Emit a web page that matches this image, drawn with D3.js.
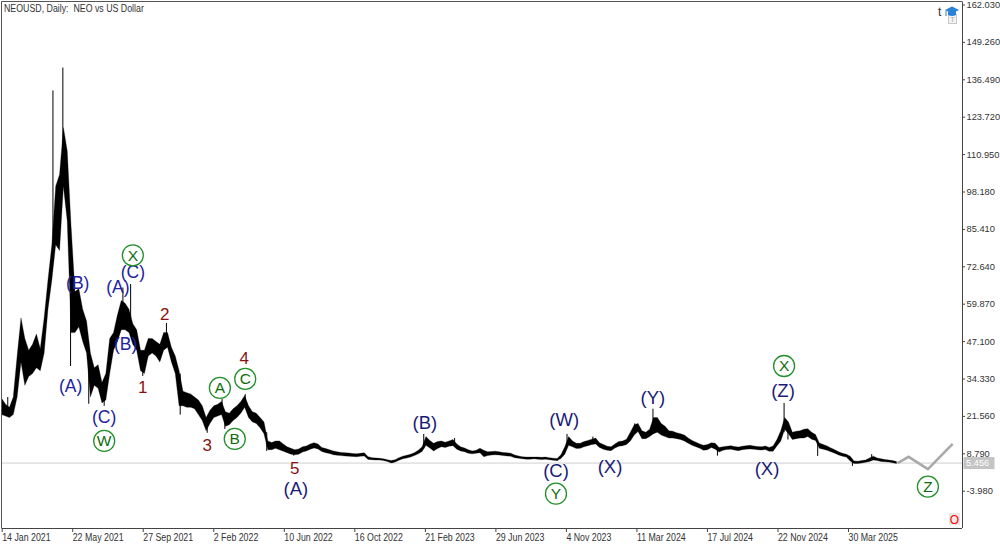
<!DOCTYPE html>
<html><head><meta charset="utf-8">
<script src="https://cdn.jsdelivr.net/npm/d3@7"></script>
<style>body{margin:0;background:#fff}svg{display:block}</style>
</head><body>
<svg id="c" width="1000" height="545"></svg>
<script>
// ---------------- DATA ----------------
const title = "NEOUSD, Daily:  NEO vs US Dollar";
const weekStart = "2021-01-14"; // weekly samples, one every 7 days
const lo = [
22,21.5,21,22,28,40,32,35,36,38,
37,43,58,68,80,78,100,88,50,50,
52,47,43,28,32,31,26,27,36,44,
47,51,51,50,46,44,37,36,42,43,
42,40,44,45,40,36,25,25,24.5,24.5,
24,22,20,16.5,19,21,21.5,22,18,18.5,
20,21,22.5,24.5,21,19.5,19,17.5,15.5,10,
10,10.5,10,9.5,9,8.5,8.3,8.5,9.2,9.6,
10.2,10.6,10.3,9.4,9.0,8.7,8.3,8.1,8.0,7.9,
7.8,7.7,7.6,7.8,7.9,6.7,6.6,6.5,6.5,6.3,
6.0,5.5,5.8,6.4,6.9,7.2,7.5,8.0,8.6,9.4,
11.5,10.6,9.6,10.4,11,10.8,11.2,11.4,10.2,9.6,
9.3,8.8,8.6,8.8,9.0,7.6,8.0,8.2,8.3,8.2,
8.0,7.9,7.8,7.3,7.1,6.9,6.8,6.8,6.9,6.8,
6.7,6.8,6.6,6.4,6.3,7.0,8.5,11.5,11,10.4,
10.5,11,11.4,11.8,12,10.8,10.2,9.8,9.7,10.6,
11.2,11.4,11.8,13,15,16.2,13.8,13.8,14.5,15.5,
16,15,14.5,14,14,13.8,13.5,13,12.2,11.5,
11,10.5,9.8,10,10.8,10.2,9.2,9.8,10.1,10.2,
9.9,9.7,10,10.2,10.3,10.2,10,9.9,10.1,9.5,
9.5,11.3,13,17,15.5,13.5,13.8,14,14,14.5,
13.6,13.2,10.5,10.2,9.8,9.3,8.8,8.2,7.8,7.5,
6.2,5.3,5.3,5.5,5.7,6.0,6.5,6.3,6.0,5.9,
5.8,5.6,5.3
];
const hi = [
27.5,25.5,24.5,28,42,55,48,44,46,49.5,
44.5,55,68,80,100,104,120,112,86,64,
65,58,54,43,38,39,33,36,48,50,
56,61,60,58,53,51,44,44,48,48,
47,46,50,50,45,42,37,30,29.5,29,
28,27,25,21,23.5,25,25.5,26.5,23,22.5,
24,25,26.5,28.5,25,23,22.5,21,19.5,13,
12.5,13,13,12,11,10.5,10,10.3,11,11.3,
12,12.4,12,10.8,10.4,10.0,9.6,9.3,9.1,9.0,
8.9,8.7,8.6,8.8,9.0,7.6,7.3,7.2,7.1,6.9,
6.6,6.3,6.6,7.3,7.8,8.1,8.5,9.0,9.8,11.0,
14.5,13.2,12.2,12.8,13,12.6,13,13.5,12,11,
10.6,10,9.6,9.8,10.5,9.8,9.3,9.4,9.5,9.3,
9.1,9.0,8.8,8.2,7.9,7.6,7.5,7.5,7.5,7.5,
7.4,7.5,7.3,7.1,7.0,8.3,11,14.5,13,12.2,
12.2,12.8,13.2,13.6,14,12.4,11.8,11.2,11,12,
12.8,13,13.6,16,18.5,19,16.5,16,17,21,
21,19,18,16.5,16.3,15.8,15.5,15,14,13.2,
12.6,12,11.5,11.8,12.4,12.2,10.8,11,11.2,11.4,
11.1,10.9,11.2,11.4,11.5,11.3,11.1,11.0,11.3,10.8,
11.3,13.5,16.5,21,19.5,16,16.3,16.5,17,17.2,
16,15.2,12.3,11.8,11.3,10.6,10,9.3,8.8,8.5,
7.8,6.2,6.1,6.3,6.5,7.2,7.8,7.2,6.9,6.7,
6.5,6.3,6.0
];
// single-day spikes: [date, low, high]
const wicks = [
["2021-01-25",22,28],["2021-04-17",80,132.7],["2021-05-05",105,140.5],["2021-05-19",38.6,86],
["2021-06-21",25.7,42],["2021-07-19",25,30],["2021-08-22",55,65.4],["2021-09-05",50,66.6],
["2021-09-27",35.2,42],["2021-11-09",46,53.3],["2021-12-04",22,36],["2022-01-22",15.8,19],
["2022-02-18",22,27.3],["2022-02-23",17.1,22],["2022-04-01",25,29],["2022-05-10",9.6,16],
["2022-06-28",8.0,9.5],["2022-12-25",5.6,6.3],["2023-02-19",10.5,15.4],["2023-04-16",12,14],
["2023-06-10",7.9,9.5],["2023-10-19",6.2,6.8],["2023-11-06",11,15.4],["2023-12-23",12.5,14.5],
["2024-03-08",16,19],["2024-04-10",15.5,24],["2024-08-05",8,10.5],["2024-12-04",16,26],
["2024-12-11",13.5,18],["2025-02-03",7.9,12],["2025-04-07",4.5,6.5],["2025-05-12",6.5,8.5]
];
const lastPrice = 5.456;
const projection = [["2025-06-28",5.456],["2025-07-18",7.6],["2025-08-22",3.4],["2025-10-06",12.0]];
const priceTicks = [162.03,149.26,136.49,123.72,110.95,98.18,85.41,72.64,59.87,47.10,34.33,21.56,8.79,-3.98];
const dateTicks = ["2021-01-14","2021-05-22","2021-09-27","2022-02-02","2022-06-10","2022-10-16","2023-02-21","2023-06-29","2023-11-04","2024-03-11","2024-07-17","2024-11-22","2025-03-30"];
// wave labels: text, date, price, kind (b = blue, B = large blue, r = red number, g = green circled)
const waveLabels = [
["(B)","2021-06-01",66.9,"b"],["(A)","2021-05-19",31.8,"b"],["(A)","2021-08-13",65.5,"b"],
["(C)","2021-09-09",70.7,"b"],["X","2021-09-09",76.4,"g"],["(B)","2021-08-27",46.1,"b"],
["(C)","2021-07-19",21.2,"b"],["W","2021-07-19",13.0,"g"],["1","2021-09-27",31.4,"r"],
["2","2021-11-06",56.3,"r"],["A","2022-02-14",31.1,"g"],["4","2022-03-30",41.3,"r"],
["C","2022-04-01",34.2,"g"],["3","2022-01-22",11.3,"r"],["B","2022-03-13",13.7,"g"],
["5","2022-06-30",3.6,"r"],["(A)","2022-07-02",-3.3,"B"],["(B)","2023-02-21",19.2,"B"],
["(W)","2023-11-01",20.5,"B"],["(C)","2023-10-17",2.8,"B"],["Y","2023-10-17",-5.0,"g"],
["(X)","2024-01-23",4.2,"B"],["(Y)","2024-04-10",27.7,"B"],["X","2024-12-04",38.6,"g"],
["(Z)","2024-12-02",30.4,"B"],["(X)","2024-11-03",3.5,"B"],["Z","2025-08-22",-2.6,"g"]
];

// ---------------- DRAW ----------------
const svg = d3.select("#c");
const P = {l:1.5, t:1.5, r:962, b:528};
const parse = s => new Date(s + "T00:00:00Z");
const x = d3.scaleUtc().domain([parse("2021-01-14"), parse("2025-03-30")]).range([1.7, 848]);
const y = d3.scaleLinear().domain([-3.98, 162.03]).range([490.7, 4.5]);
const t0 = parse(weekStart).getTime();
const dateAt = i => new Date(t0 + i * 7 * 864e5);
const axisFont = "'Liberation Sans',Arial,sans-serif";
const labFont = "'Liberation Sans',Arial,sans-serif";
function squeeze(sel, f) {
  sel.each(function(){ const w = this.getComputedTextLength();
    d3.select(this).attr("textLength", w*f).attr("lengthAdjust","spacingAndGlyphs"); });
}

svg.append("rect").attr("width",1000).attr("height",545).attr("fill","#fff");
svg.append("defs").append("clipPath").attr("id","pc").append("rect")
  .attr("x",P.l).attr("y",P.t).attr("width",P.r-P.l).attr("height",P.b-P.t);

const g = svg.append("g").attr("clip-path","url(#pc)");

// current price line
g.append("line").attr("x1",P.l).attr("x2",P.r).attr("y1",y(lastPrice)).attr("y2",y(lastPrice))
  .attr("stroke","#cfcfcf").attr("stroke-width",1);

// price band (envelope of the daily bars)
const area = d3.area().x((d,i)=>x(dateAt(i))).y0((d,i)=>y(lo[i])).y1((d,i)=>y(hi[i]));
g.append("path").datum(lo).attr("d",area).attr("fill","#000").attr("stroke","#000")
  .attr("stroke-width",0.3).attr("stroke-linejoin","round");
g.selectAll("line.w").data(wicks).enter().append("line").attr("class","w")
  .attr("x1",d=>x(parse(d[0]))).attr("x2",d=>x(parse(d[0])))
  .attr("y1",d=>y(d[1])).attr("y2",d=>y(d[2])).attr("stroke","#000").attr("stroke-width",1);

// projection
g.append("path").datum(projection)
  .attr("d", d3.line().x(d=>x(parse(d[0]))).y(d=>y(d[1])))
  .attr("fill","none").attr("stroke","#a9a9a9").attr("stroke-width",2.6).attr("stroke-linejoin","miter");

// wave labels
const colors = {b:"#2323a0", B:"#1b1b78", r:"#8b1111", g:"#0d6e0d"};
const sizes = {b:17.5, B:18.5, r:17, g:15.5};
waveLabels.forEach(d=>{
  const cx = x(parse(d[1])), cy = y(d[2]), k = d[3];
  if (k === "g") {
    g.append("circle").attr("cx",cx).attr("cy",cy).attr("r",10.5)
      .attr("fill","none").attr("stroke","#23902a").attr("stroke-width",1.3);
  }
  g.append("text").attr("x",cx).attr("y",cy).attr("text-anchor","middle")
    .attr("dominant-baseline","central").attr("font-family",labFont)
    .attr("font-size",sizes[k]).attr("fill",colors[k]).text(d[0]);
});

// frame
svg.append("line").attr("x1",P.l).attr("x2",P.l).attr("y1",P.t).attr("y2",P.b).attr("stroke","#555");
svg.append("line").attr("x1",P.l).attr("x2",P.r).attr("y1",P.t).attr("y2",P.t).attr("stroke","#555");

// price axis
const yAxis = d3.axisRight(y).tickValues(priceTicks).tickSize(3).tickPadding(1.5)
  .tickFormat(v => d3.format(".3f")(v).replace("\u2212","-"));
const ya = svg.append("g").attr("transform",`translate(${P.r},0)`).call(yAxis);
ya.select(".domain").attr("d",`M0.5,${P.t}V${P.b}`).attr("stroke","#444");
ya.selectAll(".tick line").attr("stroke","#444");
ya.selectAll("text").attr("font-family",axisFont).attr("font-size",9.3).attr("fill","#333");

// date axis
const xAxis = d3.axisBottom(x).tickValues(dateTicks.map(parse)).tickSize(4)
  .tickFormat(d3.utcFormat("%-d %b %Y"));
const xa = svg.append("g").attr("transform",`translate(0,${P.b})`).call(xAxis);
xa.select(".domain").attr("d",`M${P.l},0.5H${P.r}`).attr("stroke","#444");
xa.selectAll(".tick line").attr("stroke","#444");
xa.selectAll("text").attr("font-family",axisFont).attr("font-size",11).attr("fill","#333")
  .attr("text-anchor","start").attr("dx",0).attr("x",0).attr("y",5);
squeeze(xa.selectAll("text"), 0.8);

// current price tag
const yp = y(lastPrice);
svg.append("rect").attr("x",P.r+1.5).attr("y",yp-6).attr("width",31).attr("height",12).attr("fill","#c4c4c4");
svg.append("text").attr("x",P.r+4).attr("y",yp).attr("dominant-baseline","central")
  .attr("font-family",axisFont).attr("font-size",9.3).attr("fill","#fff").text(d3.format(".3f")(lastPrice));

// title
const tt = svg.append("text").attr("x",4).attr("y",12).attr("font-family",axisFont).attr("font-size",11)
  .attr("fill","#333").style("white-space","pre").text(title);
squeeze(tt, 0.8);

// top-right icons
svg.append("text").attr("x",938).attr("y",16).attr("font-family",labFont).attr("font-size",12).attr("fill","#333").text("t");
svg.append("rect").attr("x",948.5).attr("y",14.5).attr("width",8).attr("height",9).attr("fill","#f3f3f3").attr("stroke","#c8c8c8");
svg.append("text").attr("x",952.5).attr("y",22).attr("text-anchor","middle").attr("font-family",labFont).attr("font-size",7).attr("fill","#aaa").text("T");
svg.append("path").attr("d","M945,10 L952,6.5 L959,10 L952,13.5 Z").attr("fill","#2a82d2");
svg.append("path").attr("d","M948,11.5 V15 Q952,17 956,15 V11.5").attr("fill","#2a82d2");
svg.append("line").attr("x1",946).attr("x2",946).attr("y1",10.5).attr("y2",16).attr("stroke","#2a82d2").attr("stroke-width",1);

// red O marker
svg.append("rect").attr("x",949).attr("y",513).attr("width",11).attr("height",12).attr("fill","#e9e9e9");
svg.append("text").attr("x",954.5).attr("y",519.5).attr("text-anchor","middle").attr("dominant-baseline","central")
  .attr("font-family",labFont).attr("font-size",12).attr("fill","#ff0000").text("O");
</script>
</body></html>
